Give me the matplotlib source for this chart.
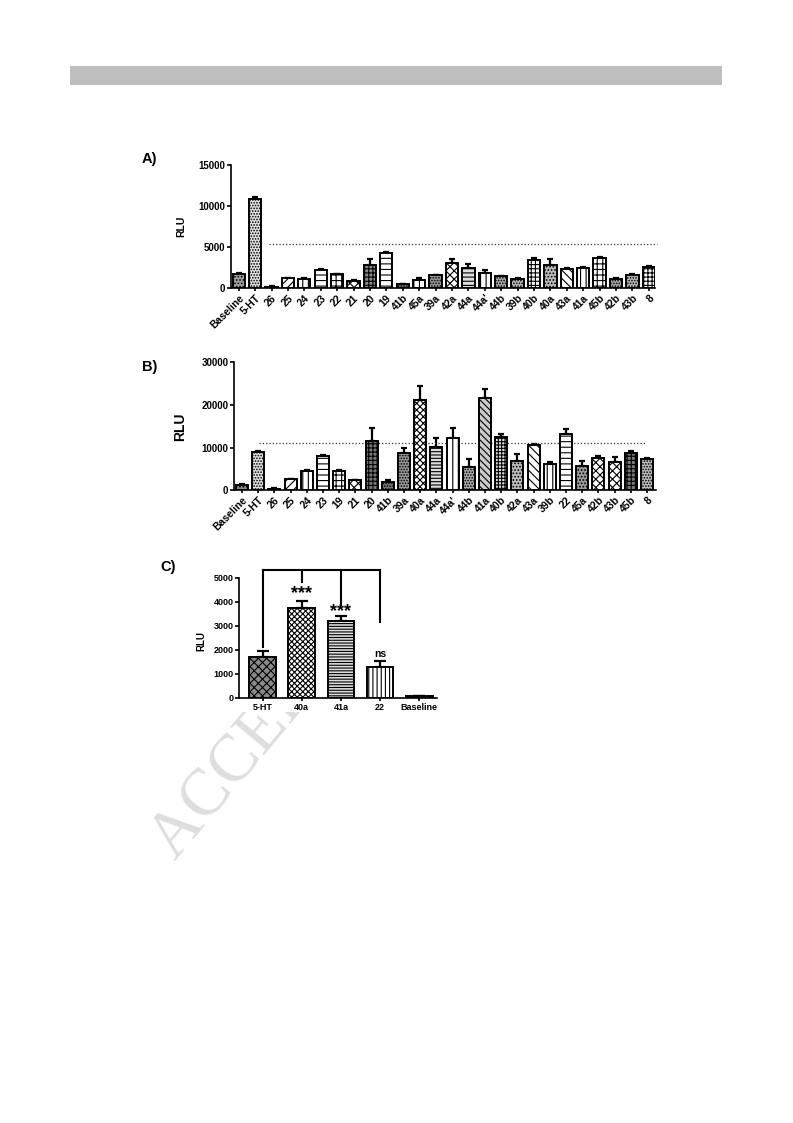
import numpy as np
import matplotlib
matplotlib.use('Agg')
import matplotlib.pyplot as plt
from matplotlib.patches import Rectangle
from matplotlib.transforms import Bbox, TransformedBbox

plt.rcParams['font.family'] = ['Liberation Sans', 'DejaVu Sans']
plt.rcParams['font.weight'] = 'bold'
plt.rcParams['hatch.linewidth'] = 0.8


# ----------------------------- DATA -----------------------------
# Panel A
labels_a = ['Baseline', '5-HT', '26', '25', '24', '23', '22', '21', '20', '19', '41b', '45a', '39a',
            '42a', '44a', "44a'", '44b', '39b', '40b', '40a', '43a', '41a', '45b', '42b', '43b', '8']
rlu_a = [1700, 10800, 150, 1180, 1150, 2200, 1670, 850, 2800, 4230, 450, 1000, 1550,
         3000, 2450, 1870, 1420, 1140, 3400, 2800, 2320, 2480, 3650, 1140, 1630, 2600]
err_a = [100, 250, 50, 60, 50, 80, 80, 80, 730, 100, 80, 260, 60,
         520, 500, 340, 100, 80, 300, 700, 60, 60, 100, 50, 80, 100]
threshold_a = 5400

# Panel B
labels_b = ['Baseline', '5-HT', '26', '25', '24', '23', '19', '21', '20', '41b', '39a', '40a', '44a',
            "44a'", '44b', '41a', '40b', '42a', '43a', '39b', '22', '45a', '42b', '43b', '45b', '8']
rlu_b = [1300, 8900, 400, 2600, 4500, 8100, 4500, 2300, 11600, 2000, 8800, 21200, 10200,
         12200, 5500, 21700, 12500, 6900, 10600, 6200, 13100, 5600, 7600, 6700, 8800, 7300]
err_b = [200, 400, 100, 100, 150, 200, 150, 150, 2900, 300, 1200, 3300, 2100,
         2300, 1800, 2000, 700, 1600, 200, 400, 1200, 1300, 500, 1000, 400, 200]
threshold_b = 11000

# Panel C
labels_c = ['5-HT', '40a', '41a', '22', 'Baseline']
rlu_c = [1700, 3750, 3200, 1300, 70]
err_c = [250, 300, 220, 230, 20]
signif_c = ['', '***', '***', 'ns', '']

# bar fill styles (face colour, hatch)
style_a = [('#a0a0a0', '.....'), ('#e0e0e0', '......'), ('#333333', ''), ('white', '////'),
           ('white', '|||'), ('white', '---'), ('white', '+++'), ('white', 'xxxx'), ('#888888', '++++'),
           ('white', '---'), ('#777777', '......'), ('white', '|||'), ('#999999', '......'),
           ('white', 'xxxx'), ('#dddddd', '----'), ('white', '|||'), ('#aaaaaa', '......'),
           ('#bbbbbb', '......'), ('white', '++++'), ('#bbbbbb', '.....'), ('white', '\\\\\\\\'),
           ('white', '|||'), ('white', '+++'), ('#aaaaaa', '......'), ('#bbbbbb', '......'), ('white', '++++')]
style_b = [('#888888', '.....'), ('#dddddd', '......'), ('#444444', ''), ('white', '////'),
           ('white', '|||'), ('white', '---'), ('white', '+++'), ('white', 'xxxx'), ('#777777', '++++'),
           ('#777777', '......'), ('#999999', '......'), ('white', 'xxxxx'), ('#dddddd', '-----'),
           ('white', '|||'), ('#aaaaaa', '......'), ('#cccccc', '\\\\\\\\\\'), ('#dddddd', '+++++'),
           ('#bbbbbb', '.....'), ('white', '\\\\\\\\'), ('white', '|||'), ('white', '---'),
           ('#999999', '.....'), ('white', 'xxxx'), ('white', 'xxxx'), ('#777777', '++++'), ('#bbbbbb', '......')]
style_c = [('#8a8a8a', 'xxxx'), ('white', 'xxxxxx'), ('#dddddd', '------'), ('white', '||||'), ('#777777', '')]


# ----------------------------- HELPERS -----------------------------
def style_axes(ax, tick_size):
    for s in ['top', 'right']:
        ax.spines[s].set_visible(False)
    for s in ['left', 'bottom']:
        ax.spines[s].set_linewidth(1.2)
    ax.tick_params(axis='y', length=3, width=1.2, labelsize=tick_size, pad=1)
    ax.tick_params(axis='x', length=2.5, width=1.2, labelsize=tick_size, pad=1)


def draw_bars(ax, values, errors, styles, width, capsize):
    x = np.arange(len(values))
    for i in range(len(values)):
        ax.bar(x[i], values[i], width=width, color=styles[i][0], hatch=styles[i][1],
               edgecolor='black', linewidth=1.4, zorder=3)
    ax.errorbar(x, values, yerr=[np.zeros(len(errors)), errors], fmt='none', ecolor='black',
                elinewidth=1.6, capsize=capsize, capthick=1.6, zorder=2)
    return x


fig = plt.figure(figsize=(7.93, 11.23), dpi=100)
W, H = 793.0, 1123.0

# grey header strip
fig.patches.append(Rectangle((70 / W, 1 - 85 / H), 652 / W, 19 / H, transform=fig.transFigure,
                             facecolor='#bfbfbf', edgecolor='none'))

# watermark (only the part below panel C shows)
wm = fig.text(176 / W, 1 - 862 / H, 'ACCEPTED MANUSCRIPT', family='Liberation Serif', fontweight='normal',
              fontsize=48, color='#dedede', rotation=50, rotation_mode='anchor',
              ha='left', va='baseline', zorder=-5)
wm.set_clip_box(TransformedBbox(Bbox([[0, 0], [1, 1 - 712 / H]]), fig.transFigure))
wm.set_clip_on(True)


# ----------------------------- PANEL A -----------------------------
ax_a = fig.add_axes([230.7 / W, 1 - 288 / H, 424.3 / W, 123 / H])
x_a = draw_bars(ax_a, rlu_a, err_a, style_a, 0.75, 2.2)
ax_a.plot([1.85, 25.5], [threshold_a, threshold_a], ls=':', color='#333333', lw=0.9, clip_on=False)
ax_a.set_xlim(-0.49, 25.38)
ax_a.set_ylim(0, 15000)
ax_a.set_yticks([0, 5000, 10000, 15000])
ax_a.set_xticks(x_a)
ax_a.set_xticklabels(labels_a, rotation=45, ha='right', rotation_mode='anchor')
style_axes(ax_a, 7)
ax_a.tick_params(axis='x', labelsize=7.5)
ax_a.set_ylabel('RLU', fontsize=7.5, fontweight='bold')
ax_a.yaxis.set_label_coords(-0.105, 0.5)
fig.text(149 / W, 1 - 159 / H, 'A)', fontsize=10.5, fontweight='bold', ha='center', va='center')


# ----------------------------- PANEL B -----------------------------
ax_b = fig.add_axes([234 / W, 1 - 490.3 / H, 422 / W, 128 / H])
x_b = draw_bars(ax_b, rlu_b, err_b, style_b, 0.74, 2.2)
ax_b.plot([1.07, 24.9], [threshold_b, threshold_b], ls=':', color='#333333', lw=0.9, clip_on=False)
ax_b.set_xlim(-0.49, 25.55)
ax_b.set_ylim(0, 30000)
ax_b.set_yticks([0, 10000, 20000, 30000])
ax_b.set_xticks(x_b)
ax_b.set_xticklabels(labels_b, rotation=45, ha='right', rotation_mode='anchor')
style_axes(ax_b, 7)
ax_b.tick_params(axis='x', labelsize=7.5)
ax_b.set_ylabel('RLU', fontsize=10, fontweight='bold')
ax_b.yaxis.set_label_coords(-0.111, 0.5)
fig.text(150 / W, 1 - 367 / H, 'B)', fontsize=10.5, fontweight='bold', ha='center', va='center')


# ----------------------------- PANEL C -----------------------------
ax_c = fig.add_axes([239 / W, 1 - 697.7 / H, 198 / W, 120 / H])
x_c = draw_bars(ax_c, rlu_c, err_c, style_c, 0.68, 4.5)
ax_c.set_xlim(-0.6, 4.45)
ax_c.set_ylim(0, 5000)
ax_c.set_yticks([0, 1000, 2000, 3000, 4000, 5000])
ax_c.set_xticks(x_c)
ax_c.set_xticklabels(labels_c)
style_axes(ax_c, 6.5)
ax_c.set_ylabel('RLU', fontsize=7, fontweight='bold')
ax_c.yaxis.set_label_coords(-0.167, 0.47)

# comparison bracket against 5-HT
bracket_y = 5320
drop_ends = [2125, 4833, 3850, 3170]
ax_c.plot([0, 3], [bracket_y, bracket_y], color='black', lw=1.5, clip_on=False)
for i, yend in enumerate(drop_ends):
    ax_c.plot([i, i], [bracket_y, yend], color='black', lw=1.5, clip_on=False)
star_y = [0, 4150, 3400, 1700]
for i in range(1, 4):
    ax_c.text(i, star_y[i], signif_c[i], ha='center', va='baseline',
              fontsize=13 if signif_c[i] == '***' else 7.5, fontweight='bold')
fig.text(168 / W, 1 - 567 / H, 'C)', fontsize=10.5, fontweight='bold', ha='center', va='center')

fig.savefig('out.png', dpi=100)
